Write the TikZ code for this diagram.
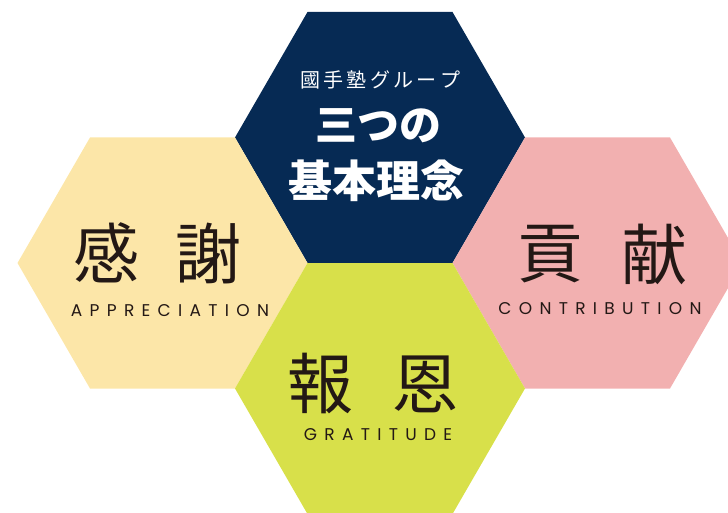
\documentclass[tikz,border=0pt]{standalone}
\usepackage{fontspec}
\newfontfamily\jpfont{Noto Sans CJK JP}
\newfontfamily\enfont{Poppins}[LetterSpace=43]
\definecolor{hexnavy}{RGB}{6,42,84}
\definecolor{hexcream}{RGB}{252,230,168}
\definecolor{hexpink}{RGB}{242,176,176}
\definecolor{hexgreen}{RGB}{216,224,74}
\definecolor{inkdark}{RGB}{35,24,21}
\newcommand\hexat[3]{\fill[#3] (#1-145,#2) -- (#1-72.5,#2-125.5) -- (#1+72.5,#2-125.5) -- (#1+145,#2) -- (#1+72.5,#2+125.5) -- (#1-72.5,#2+125.5) -- cycle;}
\tikzset{
  kanji/.style={inner sep=0pt, text=inkdark, font=\jpfont\fontsize{66}{66}\selectfont},
  engl/.style={inner sep=0pt, text=inkdark, font=\enfont\fontsize{17}{17}\selectfont},
  whitejp/.style={inner sep=0pt, text=white}
}
\begin{document}
\begin{tikzpicture}[x=1pt,y=-1pt]
\useasboundingbox (0,0) rectangle (728,513);
\clip (0,0) rectangle (728,513);
\hexat{380}{137.5}{hexnavy}
\hexat{162.5}{263}{hexcream}
\hexat{597.5}{263}{hexpink}
\hexat{380}{388.5}{hexgreen}
% top
\node[whitejp, font=\jpfont\fontsize{20}{20}\selectfont] (group) at (380,80) {國\,手\,塾\,グ\,ル\,ー\,プ};
\node[whitejp, font=\jpfont\bfseries\fontsize{42}{42}\selectfont] (mittsu) at (378,126) {三つの};
\node[whitejp, font=\jpfont\bfseries\fontsize{44}{44}\selectfont] (kihon) at (376,181) {基本理念};
% left
\node[kanji] (kan) at (106,253) {感};
\node[kanji] (sha) at (208,253) {謝};
\node[engl] (appr) at (170,311) {APPRECIATION};
% right
\node[kanji] (kou) at (550,254) {貢};
\node[kanji] (ken) at (654,254) {献};
\node[engl] (contr) at (600,309) {CONTRIBUTION};
% bottom
\node[kanji] (hou) at (320,384) {報};
\node[kanji] (on) at (425,384) {恩};
\node[engl] (grat) at (378,435) {GRATITUDE};
\end{tikzpicture}
\end{document}
